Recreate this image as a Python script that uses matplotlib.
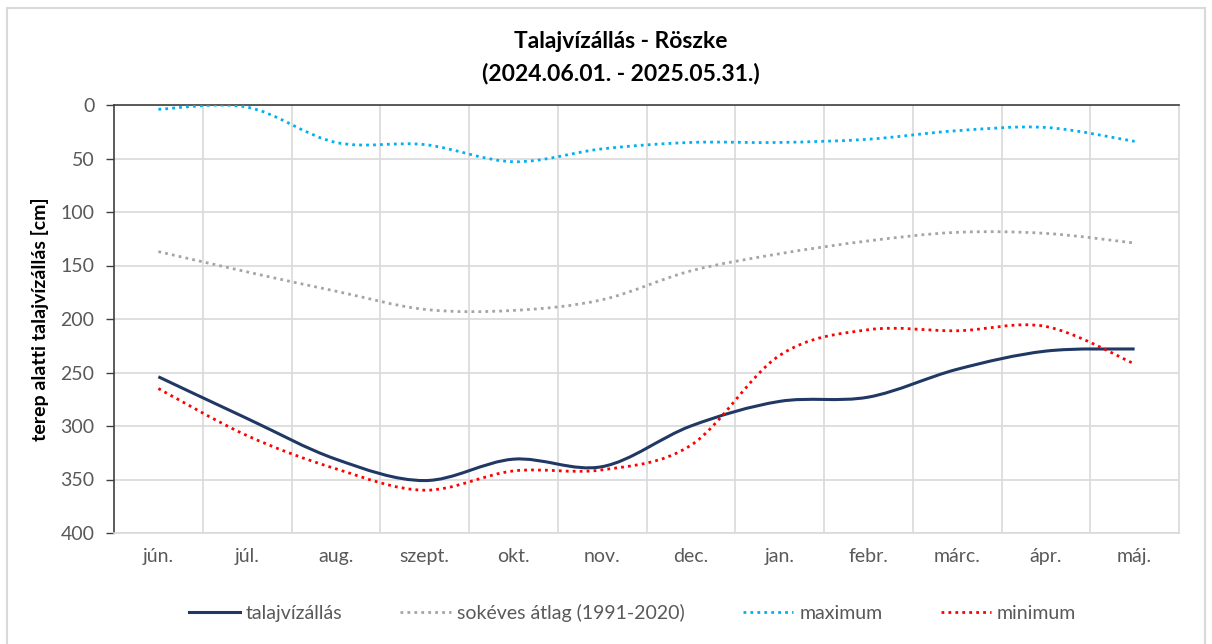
import matplotlib
matplotlib.use("Agg")
import numpy as np
from matplotlib import pyplot as plt
from matplotlib.path import Path
from matplotlib.patches import PathPatch
from matplotlib.lines import Line2D

plt.rcParams['font.family'] = ['Lato', 'DejaVu Sans']

# monthly values, cm below ground
months = ['jún.', 'júl.', 'aug.', 'szept.', 'okt.', 'nov.',
          'dec.', 'jan.', 'febr.', 'márc.', 'ápr.', 'máj.']
talajvizallas = [254, 293, 331, 351, 331, 338, 300, 277, 273, 247, 230, 228]
atlag = [137, 156, 174, 191, 192, 182, 155, 139, 127, 119, 120, 129]
maximum = [4, 2, 35, 37, 53, 41, 35, 35, 32, 24, 21, 34]
minimum = [265, 309, 340, 360, 342, 341, 318, 234, 210, 211, 207, 242]

series = [
    (talajvizallas, 'talajvízállás', '#203864', '-'),
    (atlag, 'sokéves átlag (1991-2020)', '#A5A5A5', (0, (1, 1.5))),
    (maximum, 'maximum', '#00B0F0', (0, (1, 1.5))),
    (minimum, 'minimum', '#FF0000', (0, (1, 1.5))),
]


def smooth_path(xs, ys):
    # Excel-style smoothed line: cubic Bezier segments through the points
    pts = np.column_stack([xs, ys]).astype(float)
    verts = [pts[0]]
    codes = [Path.MOVETO]
    n = len(pts)
    for i in range(n - 1):
        p0 = pts[i - 1] if i > 0 else pts[i]
        p1 = pts[i]
        p2 = pts[i + 1]
        p3 = pts[i + 2] if i + 2 < n else pts[i + 1]
        c1 = p1 + (p2 - p0) / 6.0
        c2 = p2 - (p3 - p1) / 6.0
        verts += [c1, c2, p2]
        codes += [Path.CURVE4] * 3
    return Path(verts, codes)


fig = plt.figure(figsize=(12.12, 6.44), dpi=100)
ax = fig.add_axes([114 / 1212, 1 - 533 / 644, 1065 / 1212, 428 / 644])

x = np.arange(len(months))
for vals, label, color, ls in series:
    lw = 2.2 if ls == '-' else 2.0
    patch = PathPatch(smooth_path(x, vals), facecolor='none', edgecolor=color,
                      linewidth=lw, linestyle=ls, capstyle='butt',
                      joinstyle='round', zorder=3)
    ax.add_patch(patch)

ax.set_xlim(-0.5, len(months) - 0.5)
ax.set_ylim(400, 0)
ax.set_yticks(np.arange(0, 401, 50))
ax.set_xticks(x)
ax.set_xticklabels(months)
ax.set_xticks(np.arange(0.5, len(months) - 0.5, 1), minor=True)

ax.grid(axis='y', color='#D9D9D9', linewidth=1.2)
ax.grid(axis='x', which='minor', color='#D9D9D9', linewidth=1.2)
ax.set_axisbelow(True)

for side in ['right', 'bottom']:
    ax.spines[side].set_color('#D9D9D9')
    ax.spines[side].set_linewidth(1.2)
for side in ['left', 'top']:
    ax.spines[side].set_color('#404040')
    ax.spines[side].set_linewidth(1.2)

ax.tick_params(axis='y', direction='out', length=6, width=1, color='#404040',
               labelsize=14, labelcolor='#595959', pad=8)
ax.tick_params(axis='x', which='both', length=0, labelsize=14,
               labelcolor='#595959', pad=11)

ax.set_ylabel('terep alatti talajvízállás [cm]', fontsize=14, fontweight='bold',
              color='black', labelpad=8)

fig.text(0.512, 1 - 42 / 644, 'Talajvízállás - Röszke', ha='center', va='center',
         fontsize=16.5, fontweight='bold')
fig.text(0.512, 1 - 73 / 644, '(2024.06.01. - 2025.05.31.)', ha='center',
         va='center', fontsize=16.5, fontweight='bold')

handles = [Line2D([], [], color=c, linestyle=ls, linewidth=2.2 if ls == '-' else 2.0)
           for _, _, c, ls in series]
labels = [s[1] for s in series]
fig.legend(handles, labels, loc='center', bbox_to_anchor=(0.522, 1 - 613 / 644),
           ncol=4, frameon=False, fontsize=14, handlelength=2.6,
           handletextpad=0.3, columnspacing=3.0, labelcolor='#595959')

# light chart border like the spreadsheet frame
border = plt.Rectangle((7 / 1212, -0.01), 1198 / 1212, 1 - 8 / 644 + 0.01,
                       transform=fig.transFigure, fill=False,
                       edgecolor='#D9D9D9', linewidth=1.5)
fig.patches.append(border)

fig.savefig('out.png', dpi=100)
